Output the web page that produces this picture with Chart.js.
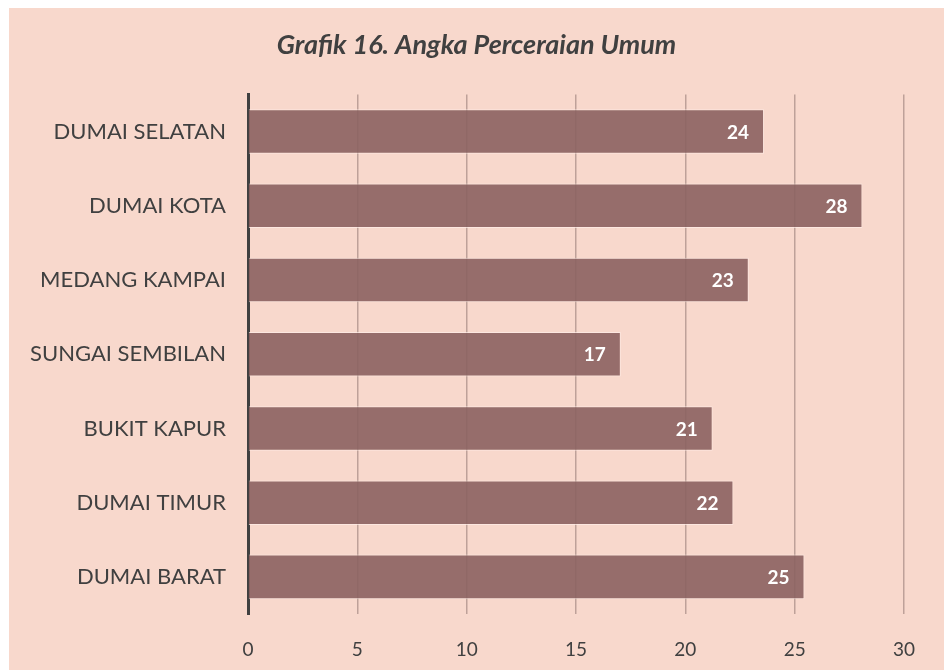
<!DOCTYPE html>
<html>
<head>
<meta charset="utf-8">
<script src="https://cdn.jsdelivr.net/npm/chart.js@4"></script>
<style>
  html, body { margin: 0; padding: 0; background: #ffffff; }
  #wrap { position: absolute; left: 9px; top: 8px; width: 935px; height: 662px; background: #f8d8cc; }
</style>
</head>
<body>
<div id="wrap"><canvas id="chart" width="935" height="662"></canvas></div>
<script>
// Kecamatan dan angka perceraian
const categories = ['DUMAI SELATAN', 'DUMAI KOTA', 'MEDANG KAMPAI', 'SUNGAI SEMBILAN', 'BUKIT KAPUR', 'DUMAI TIMUR', 'DUMAI BARAT'];
const values = [23.6, 28.1, 22.9, 17.05, 21.25, 22.2, 25.45];
const valueLabels = ['24', '28', '23', '17', '21', '22', '25'];
const xTicks = [0, 5, 10, 15, 20, 25, 30];

const fontFamily = 'Lato, "Open Sans", sans-serif';

// label angka di ujung dalam batang
const barLabels = {
    id: 'barLabels',
    afterDatasetsDraw(chart) {
        const ctx = chart.ctx;
        const meta = chart.getDatasetMeta(0);
        ctx.save();
        ctx.fillStyle = '#ffffff';
        ctx.font = 'bold 19px ' + fontFamily;
        ctx.textAlign = 'right';
        ctx.textBaseline = 'middle';
        meta.data.forEach(function(bar, i) {
            ctx.fillText(valueLabels[i], bar.x - 15, bar.y + 1);
        });
        ctx.restore();
    }
};

new Chart(document.getElementById('chart'), {
    type: 'bar',
    data: {
        labels: categories,
        datasets: [{
            data: values,
            yAxisID: 'y',
            backgroundColor: 'rgba(139, 98, 97, 0.9)',
            borderColor: 'rgba(255, 238, 232, 0.7)',
            borderWidth: 1,
            borderSkipped: 'start',
            barPercentage: 0.6,
            categoryPercentage: 1
        }]
    },
    options: {
        indexAxis: 'y',
        responsive: false,
        animation: false,
        layout: { padding: 0 },
        plugins: {
            legend: { display: false },
            tooltip: { enabled: false },
            title: {
                display: true,
                text: 'Grafik 16. Angka Perceraian Umum',
                color: '#404040',
                font: { family: fontFamily, size: 27, weight: 'bold', style: 'italic' },
                padding: { top: 21, bottom: 33 }
            }
        },
        scales: {
            x: {
                min: 0,
                max: 30,
                afterBuildTicks: function(scale) {
                    scale.ticks = xTicks.map(function(v) { return { value: v }; });
                },
                afterFit: function(scale) { scale.height = 56; },
                border: { display: false },
                grid: {
                    drawTicks: false,
                    color: function(c) { return c.tick && c.tick.value === 0 ? 'rgba(0,0,0,0)' : 'rgba(120, 95, 90, 0.45)'; },
                    lineWidth: 1.5
                },
                ticks: {
                    padding: 24,
                    color: '#404040',
                    font: { family: fontFamily, size: 19 }
                }
            },
            y: {
                afterFit: function(scale) { scale.width = 239; },
                border: { display: true, color: '#404040', width: 3 },
                grid: { display: false, drawTicks: false },
                ticks: {
                    padding: 22,
                    color: '#404040',
                    font: { family: fontFamily, size: 22 }
                }
            },
            // ruang kosong di kanan
            yRight: {
                type: 'category',
                position: 'right',
                afterFit: function(scale) { scale.width = 40; },
                border: { display: false },
                grid: { display: false, drawTicks: false },
                ticks: { display: false }
            }
        }
    },
    plugins: [barLabels]
});
</script>
</body>
</html>
